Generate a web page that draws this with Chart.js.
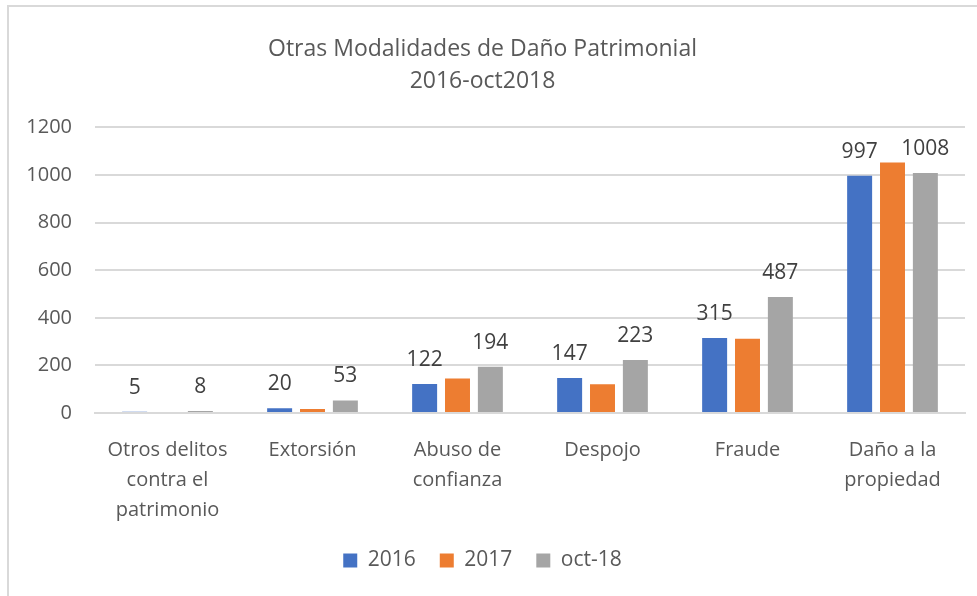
<!DOCTYPE html>
<html lang="es">
<head>
    <meta charset="UTF-8">
    <title>Otras Modalidades de Daño Patrimonial</title>
    <script src="https://cdn.jsdelivr.net/npm/chart.js"></script>
    <style>
        body {
            margin: 0;
            background: white;
        }
        .marco {
            position: absolute;
            left: 7px;
            top: 5px;
            width: 990px;
            height: 610px;
            border-top: 2px solid #d9d9d9;
            border-left: 2px solid #d9d9d9;
        }
        #grafica {
            position: absolute;
            left: 0;
            top: 0;
        }
    </style>
</head>
<body>
    <div class="marco"></div>
    <canvas id="grafica" width="977" height="596"></canvas>

    <script>
        const categorias = [
            ['Otros delitos', 'contra el', 'patrimonio'],
            'Extorsión',
            ['Abuso de', 'confianza'],
            'Despojo',
            'Fraude',
            ['Daño a la', 'propiedad']
        ];
        const datos2016 = [5, 20, 122, 147, 315, 997];
        const datos2017 = [4, 17, 145, 121, 312, 1052];
        const datosOct18 = [8, 53, 194, 223, 487, 1008];
        const ticksY = [0, 200, 400, 600, 800, 1000, 1200];

        const gris = '#595959';
        const fuente = "'Open Sans', sans-serif";

        // etiquetas de datos solo para 2016 y oct-18, como en el original
        const etiquetasDatos = {
            id: 'etiquetasDatos',
            afterDatasetsDraw(chart) {
                const ctx = chart.ctx;
                ctx.save();
                ctx.font = '21px ' + fuente;
                ctx.fillStyle = '#404040';
                ctx.textAlign = 'center';
                ctx.textBaseline = 'middle';
                chart.data.datasets.forEach((ds, i) => {
                    if (!ds.conEtiqueta) return;
                    chart.getDatasetMeta(i).data.forEach((bar, j) => {
                        ctx.fillText(String(ds.data[j]), bar.x, bar.y - 24);
                    });
                });
                ctx.restore();
            }
        };

        new Chart(document.getElementById('grafica').getContext('2d'), {
            type: 'bar',
            data: {
                labels: categorias,
                datasets: [
                    { label: '2016', data: datos2016, backgroundColor: '#4472C4', conEtiqueta: true },
                    { label: '2017', data: datos2017, backgroundColor: '#ED7D31', conEtiqueta: false },
                    { label: 'oct-18', data: datosOct18, backgroundColor: '#A5A5A5', conEtiqueta: true }
                ]
            },
            options: {
                responsive: false,
                animation: false,
                layout: {
                    padding: { left: 0, right: 12, top: 0, bottom: 15 }
                },
                datasets: {
                    bar: {
                        categoryPercentage: 0.68,
                        barPercentage: 0.76
                    }
                },
                plugins: {
                    title: {
                        display: true,
                        text: ['Otras Modalidades de Daño Patrimonial', '2016-oct2018'],
                        color: gris,
                        font: { family: fuente, size: 23, weight: 'normal', lineHeight: 1.4 },
                        padding: { top: 33, bottom: 30 }
                    },
                    legend: {
                        position: 'bottom',
                        labels: {
                            color: gris,
                            font: { family: fuente, size: 21 },
                            boxWidth: 14,
                            boxHeight: 14,
                            padding: 24
                        }
                    },
                    tooltip: { enabled: false }
                },
                scales: {
                    x: {
                        afterFit(scale) {
                            scale.height = 113;
                        },
                        grid: { display: false },
                        border: { color: '#d9d9d9', width: 2 },
                        ticks: {
                            color: gris,
                            font: { family: fuente, size: 20, lineHeight: 1.5 },
                            padding: 14,
                            maxRotation: 0
                        }
                    },
                    y: {
                        min: 0,
                        max: 1200,
                        afterBuildTicks(scale) {
                            scale.ticks = ticksY.map(v => ({ value: v }));
                        },
                        afterFit(scale) {
                            scale.width = 95;
                        },
                        border: { display: false },
                        grid: { color: '#d9d9d9', lineWidth: 2, drawTicks: false },
                        ticks: {
                            color: gris,
                            font: { family: fuente, size: 20 },
                            padding: 23,
                            callback: v => String(v)
                        }
                    }
                }
            },
            plugins: [etiquetasDatos]
        });
    </script>
</body>
</html>
